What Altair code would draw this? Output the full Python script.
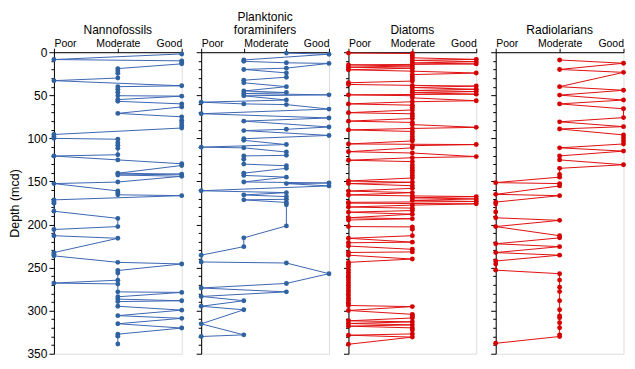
import altair as alt
import pandas as pd

# ---------------- data (depth in mcd, preservation class) ----------------
nanno_levels = ["Poor", "Moderate", "Good"]
nanno_depth = [2, 8.5, 10, 12, 13.5, 19, 21.5, 24.5, 30, 33, 39, 40, 43, 46.5, 50.5, 51, 55, 57, 60, 63.5,
               71, 75, 79, 82, 85, 88, 95.5, 98, 100, 101, 105, 108, 111.5, 119, 120.5, 125, 129.5, 131.5,
               140.5, 141.5, 142.5, 144, 150.7, 152.5, 161, 163, 165.5, 166.5, 171.4, 173.3, 175.2, 184.6,
               192.9, 202.4, 205.8, 213, 216, 232.6, 234.5, 236.4, 243.9, 245.8, 253.4, 256.3, 264.6, 268,
               269, 278.2, 278.8, 283.9, 286.6, 288.5, 289.5, 294.9, 299.4, 305.8, 308.9, 315.2, 320.2,
               327.3, 329.6, 338.7]
nanno_class = ["Good", "Poor", "Good", "Good", "Good", "Moderate", "Moderate", "Moderate", "Moderate", "Poor",
               "Good", "Moderate", "Moderate", "Moderate", "Moderate", "Good", "Moderate", "Moderate", "Good", "Good",
               "Moderate", "Good", "Good", "Good", "Good", "Good", "Poor", "Poor", "Poor", "Moderate", "Moderate",
               "Moderate", "Moderate", "Moderate", "Poor", "Moderate", "Good", "Good",
               "Moderate", "Good", "Moderate", "Good", "Moderate", "Poor", "Moderate", "Moderate", "Moderate", "Good",
               "Poor", "Poor", "Poor", "Poor",
               "Moderate", "Moderate", "Poor", "Poor", "Moderate", "Poor", "Poor", "Poor", "Moderate", "Good",
               "Moderate", "Moderate", "Moderate", "Poor",
               "Moderate", "Moderate", "Good", "Moderate", "Moderate", "Good", "Moderate", "Moderate", "Good",
               "Moderate", "Good", "Moderate", "Good",
               "Moderate", "Moderate", "Moderate"]

foram_levels = ["Poor", "Moderate", "Moderate-good", "Good"]
foram_depth = [1, 2.3, 9, 10.6, 12.3, 13, 18.5, 20, 24, 29, 32.5, 35.5, 40, 45, 46.8, 48, 49.5, 50.6, 55.5, 58,
               60, 60.8, 66, 71.4, 76.3, 80, 86.8, 89.5, 91, 96.6, 100.4, 102.3, 107.2, 110.2, 111, 115.9,
               119.7, 120.4, 124.2, 129.9, 131.8, 134.8, 140.4, 143, 145, 150.6, 151.8, 152.5, 155.2, 160.8,
               163, 165.7, 167.6, 170.7, 171.4, 174.4, 177, 201.6, 215.5, 225.7, 235.6, 243.5, 244.7, 257.1,
               268.4, 273.7, 278.2, 283.5, 288.5, 294.9, 299, 315.3, 328.1, 330]
foram_class = ["Moderate-good", "Good", "Moderate", "Moderate", "Moderate-good", "Good", "Moderate-good", "Moderate",
               "Moderate-good", "Moderate-good", "Moderate", "Moderate", "Moderate-good", "Moderate", "Moderate-good",
               "Moderate", "Good", "Moderate", "Moderate-good", "Poor",
               "Moderate", "Moderate-good", "Good", "Poor", "Good", "Moderate", "Good", "Moderate-good", "Moderate",
               "Good", "Moderate", "Moderate", "Moderate-good", "Poor", "Moderate", "Moderate-good",
               "Moderate-good", "Moderate", "Moderate", "Moderate", "Moderate-good", "Moderate-good", "Moderate",
               "Moderate", "Moderate-good", "Moderate", "Good", "Moderate-good", "Good", "Poor",
               "Moderate-good", "Moderate", "Moderate-good", "Moderate-good", "Moderate", "Moderate-good",
               "Moderate-good", "Moderate-good", "Moderate", "Moderate", "Poor", "Poor", "Moderate-good", "Good",
               "Moderate-good", "Poor", "Moderate-good", "Poor", "Moderate", "Poor", "Moderate", "Poor", "Moderate",
               "Poor"]

diatom_levels = ["Poor", "Moderate", "Good"]
diatom_depth = [1, 1.5, 4, 6.5, 8.3, 9.5, 11, 12.5, 13.6, 14.7, 16, 17.4, 18.5, 20.4, 22, 24.2, 26, 28.5, 31,
                33.5, 35.5, 37.4, 38.5, 39.3, 41, 43, 44.5, 45.7, 47, 48.7, 49.5, 50.5, 53, 56.3, 57.5, 60,
                61.5, 64, 67, 70.2, 71.5, 74, 77, 80, 81.5, 84, 87.2, 88.5, 90.2, 92, 95, 98, 101, 103, 106.5,
                107.2, 108.5, 111, 115.5, 117, 121.2, 122.5, 125.4, 127, 131, 134, 137, 140, 143, 146, 149.5,
                151, 152.5, 155, 158, 161.2, 163, 165.7, 166.8, 167.6, 169, 170.3, 172, 173.3, 174.3, 175.2,
                176, 177.5, 179.7, 181, 183.8, 185.7, 188, 192.2, 193.3, 194.8, 202.4, 202.8, 205.4, 213, 216,
                220.5, 221.2, 225, 228.8, 231.8, 232.5, 235.6, 240.1, 243.9, 246.1, 249, 252.6, 255.5, 258.5,
                261.5, 264.5, 267.5, 270.5, 273.5, 276.5, 279.5, 282.5, 285.5, 288.5, 291.5, 294, 295.3, 299.8,
                304.3, 306.5, 308.5, 311.8, 313, 314.9, 316.5, 318, 320, 322.5, 327, 328.5, 330.7, 339]
diatom_class = ["Poor", "Moderate", "Moderate", "Moderate", "Good", "Moderate", "Good", "Moderate", "Good", "Poor",
                "Moderate", "Poor", "Moderate", "Poor", "Moderate", "Good", "Moderate", "Moderate", "Moderate",
                "Moderate", "Poor", "Poor", "Moderate", "Good", "Moderate", "Good", "Moderate", "Good", "Moderate",
                "Good", "Poor", "Moderate", "Moderate", "Good", "Moderate", "Poor",
                "Moderate", "Moderate", "Moderate", "Poor", "Moderate", "Moderate", "Moderate", "Poor", "Moderate",
                "Moderate", "Good", "Moderate", "Poor", "Moderate", "Moderate", "Moderate", "Moderate", "Moderate",
                "Poor", "Good", "Moderate", "Moderate", "Poor", "Moderate", "Good", "Moderate", "Poor", "Moderate",
                "Moderate", "Moderate", "Moderate", "Moderate", "Moderate", "Moderate", "Poor",
                "Moderate", "Poor", "Moderate", "Moderate", "Poor", "Moderate", "Poor", "Moderate", "Good",
                "Moderate", "Good", "Moderate", "Good", "Poor", "Poor",
                "Good", "Moderate", "Poor", "Moderate", "Moderate", "Poor", "Moderate", "Poor", "Moderate", "Poor",
                "Poor", "Moderate", "Moderate", "Moderate", "Poor",
                "Moderate", "Poor", "Poor", "Moderate", "Moderate", "Poor", "Poor", "Moderate", "Poor", "Poor",
                "Poor", "Poor", "Poor", "Poor",
                "Poor", "Poor", "Poor", "Poor", "Poor", "Poor", "Poor", "Poor", "Poor", "Poor", "Poor", "Poor",
                "Moderate", "Poor",
                "Moderate", "Moderate", "Moderate", "Poor", "Moderate", "Poor", "Moderate", "Poor", "Moderate",
                "Moderate", "Moderate", "Poor", "Moderate", "Poor"]

radio_levels = ["Poor", "Moderate", "Good"]
radio_depth = [9, 12.8, 20, 23.4, 40, 44.2, 49.8, 55.5, 60, 65.7, 75.9, 80.8, 86.4, 89.1, 96, 99.5, 103, 106.5,
               111, 114.8, 120.4, 125, 130.6, 134.8, 142, 145, 151.4, 152.5, 155.2, 165, 166.5, 174, 176, 185.4,
               192.2, 195.2, 202.4, 213, 215.5, 222.4, 225.7, 232.6, 235.6, 242.4, 245.8, 253, 257.1, 264.5,
               272.7, 277.9, 288.5, 299, 306.2, 308.1, 314.1, 319.8, 328.1, 330, 337.9]
radio_class = ["Moderate", "Good", "Moderate", "Good", "Moderate", "Good", "Moderate", "Good", "Moderate", "Good",
               "Good", "Moderate", "Good", "Moderate", "Good", "Good", "Good", "Good",
               "Moderate", "Good", "Moderate", "Moderate", "Good", "Moderate", "Moderate", "Moderate", "Poor",
               "Moderate", "Moderate", "Poor", "Moderate", "Poor", "Poor", "Poor",
               "Poor", "Moderate", "Poor", "Moderate", "Moderate", "Poor", "Moderate", "Poor", "Moderate", "Poor",
               "Poor", "Poor", "Moderate", "Moderate",
               "Moderate", "Moderate", "Moderate", "Moderate", "Moderate", "Moderate", "Moderate", "Moderate",
               "Moderate", "Moderate", "Poor"]

titles = ["Nannofossils", ["Planktonic", "foraminifers"], "Diatoms", "Radiolarians"]
BLUE_PT, BLUE_LN = "#2f62a0", "#3d66b3"
RED_PT, RED_LN = "#d40000", "#e01010"
FONT = "Liberation Sans"

W, H = 128, 302


def panel(depths, classes, levels, title, pt_color, ln_color, first):
    pos = {name: i for i, name in enumerate(levels)}
    df = pd.DataFrame({"depth": depths, "cls": classes})
    df["pos"] = df["cls"].map(pos)
    n = len(levels) - 1
    label_map = "{" + ",".join(
        f"'{i}': '{(levels[i] if levels[i] in ('Poor', 'Moderate', 'Good') else '')}'" for i in range(n + 1)) + "}"
    mod_align = "left" if n == 3 else "center"
    xaxis = alt.Axis(
        orient="top", values=list(range(n + 1)), title=None, grid=False,
        labelExpr=f"{label_map}[datum.value + '']",
        labelAlign={"condition": [{"test": "datum.value == 0", "value": "left"},
                                  {"test": f"datum.value == {n}", "value": "right"}],
                    "value": mod_align},
        labelBaseline="alphabetic",
        labelFlush=False, labelOverlap=False, labelFontSize=10.5, labelFont=FONT, labelColor="black",
        labelPadding=2, tickSize=4, tickColor="black", domainColor="black", labelAngle=0,
    )
    yaxis_kwargs = dict(
        values=list(range(0, 351, 10)), grid=False, tickColor="black", domainColor="black",
        tickSize={"condition": {"test": "datum.value % 50 == 0", "value": 5}, "value": 3},
        labelOverlap=False,
    )
    if first:
        yaxis = alt.Axis(title="Depth (mcd)", titleFontWeight="normal", titleFontSize=12.5, titleFont=FONT,
                         titleColor="black", titlePadding=5,
                         labelExpr="datum.value % 50 == 0 ? datum.label : ''", labelFontSize=12,
                         labelFont=FONT, labelColor="black", labelPadding=2, **yaxis_kwargs)
    else:
        yaxis = alt.Axis(title=None, labels=False, **yaxis_kwargs)
    base = alt.Chart(df).encode(
        x=alt.X("pos:Q", scale=alt.Scale(domain=[0, n], nice=False, zero=False), axis=xaxis),
        y=alt.Y("depth:Q", scale=alt.Scale(domain=[0, 350], reverse=True, nice=False), axis=yaxis),
        order=alt.Order("depth:Q"),
    )
    line = base.mark_line(color=ln_color, strokeWidth=1)
    pts = base.mark_circle(color=pt_color, size=24, opacity=1)
    return alt.layer(line, pts).properties(
        width=W, height=H,
        title=alt.TitleParams(title, fontSize=12, fontWeight="normal", font=FONT, color="black",
                              anchor="middle", frame="group", offset=1, lineHeight=13),
    )


chart = alt.hconcat(
    panel(nanno_depth, nanno_class, nanno_levels, titles[0], BLUE_PT, BLUE_LN, True),
    panel(foram_depth, foram_class, foram_levels, titles[1], BLUE_PT, BLUE_LN, False),
    panel(diatom_depth, diatom_class, diatom_levels, titles[2], RED_PT, RED_LN, False),
    panel(radio_depth, radio_class, radio_levels, titles[3], RED_PT, RED_LN, False),
    spacing=19.5, bounds="flush",
).configure_view(stroke=None).configure(background="white",
                                        padding={"left": 0, "top": 2, "right": 0, "bottom": 0})

chart.save("out.html", embed_options={"renderer": "svg", "actions": False})
